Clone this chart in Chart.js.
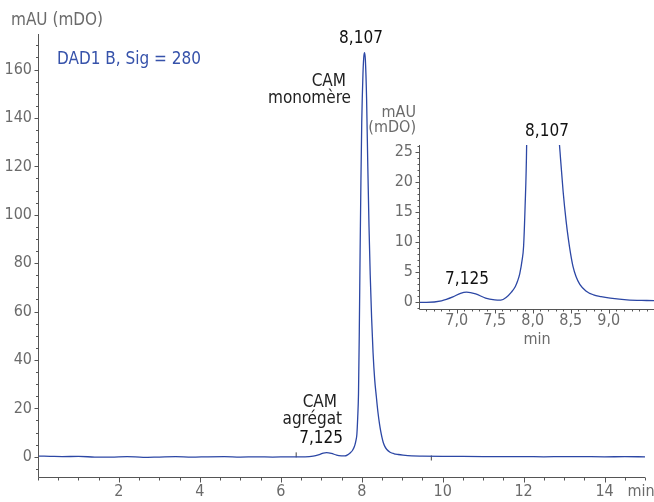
<!DOCTYPE html>
<html>
<head>
<meta charset="utf-8">
<script src="https://cdn.jsdelivr.net/npm/chart.js@4.4.0/dist/chart.umd.min.js"></script>
<style>
  html, body { margin: 0; padding: 0; background: #fff; }
  #wrap { position: relative; width: 654px; height: 502px; }
  #mainChart { position: absolute; left: 0; top: 0; }
  #insetChart { position: absolute; left: 330px; top: 95px; }
</style>
</head>
<body>
<div id="wrap">
  <canvas id="mainChart" width="654" height="502"></canvas>
  <canvas id="insetChart" width="324" height="260"></canvas>
</div>
<script>
// Chromatogramme (min / mAU)
const tempo = [0.0, 0.3, 0.6, 1.0, 1.4, 1.8, 2.2, 2.6, 3.0, 3.4, 3.8, 4.2, 4.6, 5.0, 5.4, 5.8, 6.2, 6.6,
  6.8, 6.95, 7.05, 7.13, 7.25, 7.38, 7.5, 7.58, 7.65, 7.72, 7.77, 7.80, 7.83, 7.86, 7.88, 7.90, 7.92,
  7.94, 7.96, 7.98, 8.00, 8.03, 8.05, 8.07, 8.09, 8.12, 8.15, 8.18, 8.21, 8.245, 8.28, 8.32, 8.36,
  8.40, 8.44, 8.47, 8.50, 8.53, 8.57, 8.62, 8.70, 8.80, 8.90, 9.02, 9.24, 9.5, 10.0, 10.5, 11.0,
  11.5, 12.0, 12.5, 13.0, 13.5, 14.0, 14.5, 15.0];
const absorbancia = [0.3, 0.2, 0.1, 0.15, -0.1, -0.15, 0.1, -0.25, -0.1, 0.05, -0.15, 0.0, 0.05, -0.1, 0.0, -0.1, 0.0, 0.0,
  0.25, 0.9, 1.5, 1.7, 1.4, 0.7, 0.4, 0.35, 0.8, 1.7, 2.6, 3.5, 4.8, 7, 9.3, 16, 26,
  52, 85, 114, 138, 158, 165, 167, 164, 148, 120, 95, 75, 57, 43, 32, 25,
  18.5, 13.5, 10.5, 8, 6, 4.3, 3.0, 1.9, 1.25, 0.95, 0.7, 0.4, 0.3, 0.2, 0.15, 0.1,
  0.05, 0.1, 0.0, 0.1, 0.05, 0.0, 0.05, 0.0];
// marqueurs d'intégration
const marcadoresTempo = [6.38, 9.72];
const marcadoresValor = [0.8, -0.5];

const pontos = tempo.map((t, i) => ({ x: t, y: absorbancia[i] }));
const marcadores = marcadoresTempo.map((t, i) => ({ x: t, y: marcadoresValor[i] }));

const FONTE = '"Liberation Sans Narrow", "DejaVu Sans Condensed", "Arial Narrow", sans-serif';
const AZUL = '#2c47a5';
const CINZA = '#6b6b6b';
const EIXO = '#555555';

// desenha linhas dos eixos e os traços (maiores onde há rótulo)
function eixos(cfg) {
  return {
    id: 'eixos',
    afterDraw(chart) {
      const ctx = chart.ctx;
      const x = chart.scales.x, y = chart.scales.y;
      const l = Math.round(x.left) + 0.5, b = Math.round(y.bottom) + 0.5;
      ctx.save();
      ctx.strokeStyle = EIXO;
      ctx.lineWidth = 1;
      ctx.beginPath();
      ctx.moveTo(l, Math.round(y.top));
      ctx.lineTo(l, b);
      ctx.lineTo(Math.round(x.right), b);
      x.ticks.forEach(t => {
        const px = Math.round(x.getPixelForValue(t.value)) + 0.5;
        const len = t.label !== '' ? cfg.xMaior : cfg.xMenor;
        ctx.moveTo(px, b);
        ctx.lineTo(px, b + len);
      });
      y.ticks.forEach(t => {
        const py = Math.round(y.getPixelForValue(t.value)) + 0.5;
        const len = t.label !== '' ? cfg.yMaior : cfg.yMenor;
        ctx.moveTo(l, py);
        ctx.lineTo(l - len, py);
      });
      ctx.stroke();
      ctx.restore();
    }
  };
}

// textos soltos
function textos(lista) {
  return {
    id: 'textos',
    afterDraw(chart) {
      const ctx = chart.ctx;
      ctx.save();
      ctx.textBaseline = 'middle';
      lista.forEach(t => {
        ctx.font = (t.size || 17) + 'px ' + FONTE;
        ctx.fillStyle = t.color;
        ctx.textAlign = t.align;
        ctx.fillText(t.text, t.x, t.y);
      });
      ctx.restore();
    }
  };
}

Chart.defaults.font.family = FONTE;
Chart.defaults.font.size = 16;

new Chart(document.getElementById('mainChart'), {
  type: 'line',
  data: {
    datasets: [{
      data: pontos,
      borderColor: AZUL,
      borderWidth: 1.3,
      pointRadius: 0,
      cubicInterpolationMode: 'monotone',
      fill: false
    }, {
      type: 'scatter',
      data: marcadores,
      pointStyle: 'line',
      rotation: 90,
      radius: 2.5,
      borderColor: '#444',
      borderWidth: 1
    }]
  },
  options: {
    responsive: false,
    animation: false,
    layout: { padding: { top: 34, right: 9, left: 0, bottom: 0 } },
    plugins: { legend: { display: false }, tooltip: { enabled: false } },
    scales: {
      x: {
        type: 'linear',
        min: 0, max: 15,
        afterFit(s) { s.height = 25; },
        grid: { display: false, drawTicks: false },
        border: { display: false },
        ticks: {
          stepSize: 0.5, autoSkip: false, maxRotation: 0, padding: 5, color: CINZA,
          callback: v => (v > 0 && v < 15 && v % 2 === 0) ? String(v) : ''
        }
      },
      y: {
        min: -8.35, max: 174.7,
        afterFit(s) { s.width = 38; },
        grid: { display: false, drawTicks: false },
        border: { display: false },
        ticks: {
          stepSize: 5, autoSkip: false, padding: 6, color: CINZA, includeBounds: false,
          callback: v => (v >= 0 && v % 20 === 0) ? String(v) : ''
        }
      }
    }
  },
  plugins: [eixos({ xMaior: 5, xMenor: 3, yMaior: 4, yMenor: 2.5 }), textos([
    { text: 'mAU (mDO)', x: 11, y: 21, align: 'left', color: CINZA },
    { text: 'DAD1 B, Sig = 280', x: 57, y: 60, align: 'left', color: '#3652aa' },
    { text: '8,107', x: 361, y: 39, align: 'center', color: '#111' },
    { text: 'CAM', x: 346, y: 82, align: 'right', color: '#222' },
    { text: 'monomère', x: 351, y: 99, align: 'right', color: '#222' },
    { text: 'CAM', x: 337, y: 403, align: 'right', color: '#222' },
    { text: 'agrégat', x: 342, y: 420, align: 'right', color: '#222' },
    { text: '7,125', x: 343, y: 439, align: 'right', color: '#111' },
    { text: 'min', x: 641, y: 492, align: 'center', color: CINZA, size: 16 }
  ])]
});

new Chart(document.getElementById('insetChart'), {
  type: 'line',
  data: {
    datasets: [{
      data: pontos,
      borderColor: AZUL,
      borderWidth: 1.3,
      pointRadius: 0,
      cubicInterpolationMode: 'monotone',
      fill: false,
      clip: 0
    }]
  },
  options: {
    responsive: false,
    animation: false,
    layout: { padding: { top: 50, right: 0, left: 0, bottom: 0 } },
    plugins: { legend: { display: false }, tooltip: { enabled: false } },
    scales: {
      x: {
        type: 'linear',
        min: 6.504, max: 9.596,
        afterFit(s) { s.height = 46.5; },
        grid: { display: false, drawTicks: false },
        border: { display: false },
        ticks: {
          stepSize: 0.1, autoSkip: false, maxRotation: 0, padding: 3, color: CINZA, includeBounds: false,
          callback: v => (v < 9.3 && Math.abs(v * 2 - Math.round(v * 2)) < 1e-6) ? v.toFixed(1).replace('.', ',') : ''
        }
      },
      y: {
        min: -1.03, max: 26.22,
        afterFit(s) { s.width = 89; },
        grid: { display: false, drawTicks: false },
        border: { display: false },
        ticks: {
          stepSize: 1, autoSkip: false, padding: 6, color: CINZA, includeBounds: false,
          callback: v => (v >= 0 && v % 5 === 0) ? String(v) : ''
        }
      }
    }
  },
  plugins: [eixos({ xMaior: 4, xMenor: 2, yMaior: 4, yMenor: 2 }), textos([
    { text: 'mAU', x: 86, y: 18, align: 'right', color: CINZA, size: 16 },
    { text: '(mDO)', x: 86, y: 33, align: 'right', color: CINZA, size: 16 },
    { text: '8,107', x: 217, y: 37, align: 'center', color: '#111' },
    { text: '7,125', x: 137, y: 185, align: 'center', color: '#111' },
    { text: 'min', x: 207, y: 245, align: 'center', color: CINZA, size: 16 }
  ])]
});
</script>
</body>
</html>
